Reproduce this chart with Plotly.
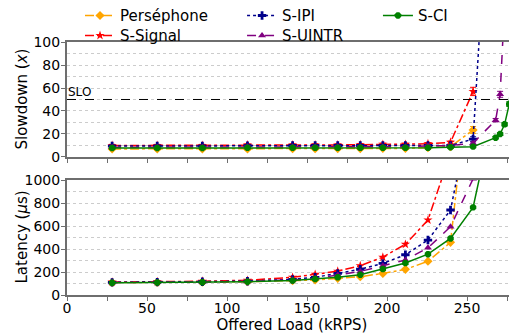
import plotly.graph_objects as go

# Offered load (kRPS)
load = [28.2, 56.4, 84.6, 112.8, 141.0, 155.1, 169.2, 183.3, 197.4, 211.5, 225.6, 239.7,
        253.8, 267.9, 270.7, 273.5, 276.4, 279.2]

series_names = ["Perséphone", "S-Signal", "S-IPI", "S-UINTR", "S-CI"]

# Slowdown (x) — top panel
slow_persephone = [7, 7, 7, 7, 7.2, 7.2, 7.3, 7.3, 7.5, 7.5, 8, 9, 23.5]
slow_signal = [10, 10, 10, 10.5, 10.5, 10.5, 10.5, 10.7, 11, 11, 11.5, 12.8, 57]
slow_ipi = [9.5, 9.5, 9.5, 9.8, 10, 10, 10, 10, 10, 10, 10, 10, 15.6, 335]
slow_uintr = [8.5, 8.5, 8.5, 9, 9, 9, 9, 9, 9, 9, 9.5, 10, 12, 32, 54.5, 133]
slow_ci = [7.8, 7.8, 7.8, 8, 8, 8, 8, 8, 8, 8, 8, 8.5, 9, 16.8, 20, 28.4, 46, 106]

err_persephone = [1, 1, 1, 1, 1, 1, 1, 1, 1, 1, 1, 1, 3]
err_signal = [1, 1, 1, 1, 1, 1, 1, 1, 1, 1, 1, 1, 3.6]
err_ipi = [0.8, 0.8, 0.8, 0.8, 0.8, 0.8, 0.8, 0.8, 0.8, 0.8, 0.8, 0.8, 2, 5]
err_uintr = [0.8, 0.8, 0.8, 0.8, 0.8, 0.8, 0.8, 0.8, 0.8, 0.8, 0.8, 0.8, 1, 1.5, 2.6, 5]
err_ci = [0.8, 0.8, 0.8, 0.8, 0.8, 0.8, 0.8, 0.8, 0.8, 0.8, 0.8, 0.8, 0.8, 1, 1.2, 1.5, 2, 5]

# Latency (us) — bottom panel
lat_persephone = [108, 110, 112, 115, 125, 130, 145, 159, 188, 223, 293, 458, 2235]
lat_signal = [112, 115, 120, 128, 154, 180, 207, 255, 329, 441, 652, 1236]
lat_ipi = [110, 112, 115, 120, 136, 154, 188, 224, 275, 350, 478, 739, 1708]
lat_uintr = [108, 110, 112, 118, 133, 145, 174, 205, 255, 305, 410, 594, 1010, 1800]
lat_ci = [106, 108, 110, 115, 125, 139, 154, 176, 226, 278, 355, 492, 762, 1665]

colors = ["#FFA500", "#FF0000", "#00008B", "#800080", "#008000"]
dashes = ["dashdot", "dashdot", "dot", "dash", "solid"]
symbols = ["diamond", "star", "cross", "triangle-up", "octagon"]
legend_ids = ["legend", "legend2", "legend3", "legend4", "legend5"]

slows = [slow_persephone, slow_signal, slow_ipi, slow_uintr, slow_ci]
errs = [err_persephone, err_signal, err_ipi, err_uintr, err_ci]
lats = [lat_persephone, lat_signal, lat_ipi, lat_uintr, lat_ci]

FONT = "DejaVu Sans"
fig = go.Figure()

for i, name in enumerate(series_names):
    n = len(slows[i])
    fig.add_trace(go.Scatter(
        x=load[:n], y=slows[i], name=name, mode="lines+markers",
        line=dict(color=colors[i], dash=dashes[i], width=1.5),
        marker=dict(symbol=symbols[i], size=7, color=colors[i]),
        error_y=dict(type="data", array=errs[i], color=colors[i], thickness=1, width=3),
        xaxis="x2", yaxis="y2", legend=legend_ids[i], showlegend=True,
    ))
for i, name in enumerate(series_names):
    n = len(lats[i])
    fig.add_trace(go.Scatter(
        x=load[:n], y=lats[i], name=name, mode="lines+markers",
        line=dict(color=colors[i], dash=dashes[i], width=1.5),
        marker=dict(symbol=symbols[i], size=7, color=colors[i]),
        xaxis="x", yaxis="y", showlegend=False,
    ))

axis_common = dict(
    showline=True, mirror=True, linecolor="#6e6e6e", linewidth=2,
    ticks="outside", ticklen=4, tickcolor="#6e6e6e",
    tickfont=dict(family=FONT, size=14, color="black"),
    zeroline=False,
)
grid = dict(showgrid=True, gridcolor="#cccccc", griddash="dot", gridwidth=1)

legend_common = dict(yanchor="top", xanchor="left", orientation="v",
                     bgcolor="rgba(0,0,0,0)", font=dict(family=FONT, size=15),
                     tracegroupgap=0, borderwidth=0)
ROW1, ROW2 = 1.169, 1.09
COL1, COL2, COL3 = 0.0289, 0.389, 0.691

# page body has an 8px margin: figure drawn at (8, 8) in the 517x334 window
fig.update_layout(
    width=509, height=326,
    margin=dict(l=59, r=0, t=34, b=39, autoexpand=False),
    plot_bgcolor="white", paper_bgcolor="white",
    font=dict(family=FONT, size=14, color="black"),
    xaxis=dict(domain=[0, 1], anchor="y", range=[0, 281.25], tick0=0, dtick=50,
               showgrid=False, ticklabelstandoff=-5,
               minor=dict(dtick=25, ticks="outside", ticklen=4, tickcolor="#6e6e6e"),
               title=dict(text="Offered Load (kRPS)", font=dict(family=FONT, size=15), standoff=0),
               **axis_common),
    xaxis2=dict(domain=[0, 1], anchor="y2", matches="x", range=[0, 281.25], tick0=0, dtick=50,
                showticklabels=False, showgrid=False,
                minor=dict(dtick=25, ticks="outside", ticklen=4, tickcolor="#6e6e6e"),
                **axis_common),
    yaxis=dict(domain=[0, 0.4545], anchor="x", range=[0, 1000], dtick=200,
               minor=dict(dtick=100, showgrid=True, gridcolor="#cccccc", griddash="dot"),
               ticklabelstandoff=-2, **grid, **axis_common),
    yaxis2=dict(domain=[0.5455, 1], anchor="x2", range=[0, 100], dtick=20,
                minor=dict(dtick=10, showgrid=True, gridcolor="#cccccc", griddash="dot"),
                ticklabelstandoff=-2, **grid, **axis_common),
    legend=dict(x=COL1, y=ROW1, **legend_common),
    legend2=dict(x=COL1, y=ROW2, **legend_common),
    legend3=dict(x=COL2, y=ROW1, **legend_common),
    legend4=dict(x=COL2, y=ROW2, **legend_common),
    legend5=dict(x=COL3, y=ROW1, **legend_common),
)

# SLO line
fig.add_shape(type="line", xref="x2 domain", yref="y2", x0=0, x1=1, y0=50, y1=50,
              line=dict(color="black", width=1, dash="dash"))
fig.add_annotation(text="SLO", xref="x2 domain", yref="y2", x=0, y=50,
                   xanchor="left", yanchor="bottom", showarrow=False,
                   font=dict(family=FONT, size=12, color="black"), xshift=-1, yshift=-2)

# Y titles (aligned)
fig.add_annotation(text="Slowdown (<i>x</i>)", xref="paper", yref="paper", x=-0.1, y=0.7727,
                   xanchor="center", yanchor="middle", textangle=-90, showarrow=False,
                   font=dict(family=FONT, size=15, color="black"))
fig.add_annotation(text="Latency (<i>μ</i>s)", xref="paper", yref="paper", x=-0.1, y=0.2273,
                   xanchor="center", yanchor="middle", textangle=-90, showarrow=False,
                   font=dict(family=FONT, size=15, color="black"))

fig.write_html("out.html")
